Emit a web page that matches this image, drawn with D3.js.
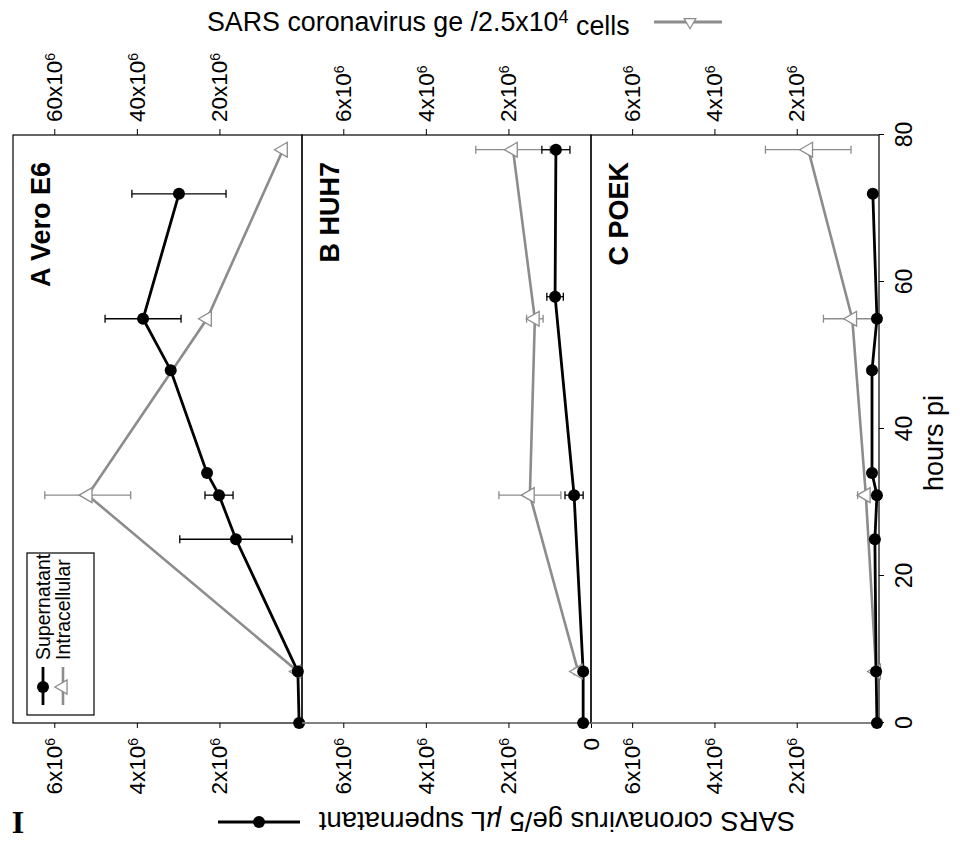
<!DOCTYPE html>
<html><head><meta charset="utf-8">
<script src="https://cdn.jsdelivr.net/npm/d3@7"></script>
<style>
body{margin:0;background:#fff}
svg{display:block}
text{font-family:"Liberation Sans",Arial,Helvetica,sans-serif;fill:#000}
</style>
</head><body>
<svg id="c" width="960" height="847"></svg>
<script>
// ---------- data ----------
const hoursTicks = [0, 20, 40, 60, 80];
const panelNames = ["A Vero E6", "B HUH7", "C POEK"];
const leftTicksA = [2e6, 4e6, 6e6];
const leftTicksB = [0, 2e6, 4e6, 6e6];
const leftTicksC = [2e6, 4e6, 6e6];
const rightTicksA = [20e6, 40e6, 60e6];
const rightTicksB = [2e6, 4e6, 6e6];
const rightTicksC = [2e6, 4e6, 6e6];

// Supernatant (ge / 5 µL) : hours, value, error
const supA_h = [0, 7, 25, 31, 34, 48, 55, 72];
const supA_v = [0.07e6, 0.1e6, 1.6e6, 2.01e6, 2.3e6, 3.18e6, 3.85e6, 2.98e6];
const supA_e = [0, 0, 1.36e6, 0.34e6, 0, 0, 0.92e6, 1.14e6];
const supB_h = [0, 7, 31, 58, 78];
const supB_v = [0.19e6, 0.19e6, 0.41e6, 0.87e6, 0.85e6];
const supB_e = [0, 0, 0.22e6, 0.2e6, 0.34e6];
const supC_h = [0, 7, 25, 31, 34, 48, 55, 72];
const supC_v = [0.05e6, 0.07e6, 0.1e6, 0.05e6, 0.17e6, 0.17e6, 0.05e6, 0.15e6];
const supC_e = [0, 0, 0, 0, 0, 0, 0, 0];

// Intracellular (ge / 2.5x10^4 cells) : hours, value, error
const intA_h = [7, 31, 55, 78];
const intA_v = [1e6, 51.9e6, 23e6, 4.6e6];
const intA_e = [0, 10.4e6, 0, 0];
const intB_h = [7, 31, 55, 78];
const intB_v = [0.31e6, 1.48e6, 1.36e6, 1.89e6];
const intB_e = [0.1e6, 0.75e6, 0.2e6, 0.9e6];
const intC_h = [7, 31, 55, 78];
const intC_v = [0.07e6, 0.32e6, 0.65e6, 1.72e6];
const intC_e = [0.05e6, 0.2e6, 0.7e6, 1.04e6];

const leftMax = [7e6, 7e6, 7e6];
const rightMax = [70e6, 7e6, 7e6];

// ---------- build ----------
const zip = (h, v, e) => h.map((d, i) => ({h: d, v: v[i], e: e[i]}));
const sup = [zip(supA_h, supA_v, supA_e), zip(supB_h, supB_v, supB_e), zip(supC_h, supC_v, supC_e)];
const intr = [zip(intA_h, intA_v, intA_e), zip(intB_h, intB_v, intB_e), zip(intC_h, intC_v, intC_e)];
const leftTicks = [leftTicksA, leftTicksB, leftTicksC];
const rightTicks = [rightTicksA, rightTicksB, rightTicksC];

const GRAY = "#8c8c8c";
const FONT = "Liberation Sans, Arial, sans-serif";
const svg = d3.select("#c");
// the figure is drawn in its original orientation, then turned a quarter turn
const g = svg.append("g").attr("transform", "translate(0,847) rotate(-90)");

const x = d3.scaleLinear().domain([0, 80]).range([124, 712]);
const panelTop = [13, 302, 591], panelBot = [302, 591, 879];

function sciLabels(sel) {
  sel.selectAll(".tick text").each(function (d) {
    const t = d3.select(this);
    t.text(null);
    if (d === 0) { t.text("0"); return; }
    t.append("tspan").text(Math.round(d / 1e6) + "x10");
    t.append("tspan").attr("dy", "-0.5em").attr("font-size", "0.62em").text("6");
  });
}

for (let i = 0; i < 3; i++) {
  const top = panelTop[i], bot = panelBot[i];
  const yL = d3.scaleLinear().domain([0, leftMax[i]]).range([bot, top]);
  const yR = d3.scaleLinear().domain([0, rightMax[i]]).range([bot, top]);
  const pg = g.append("g");

  // frame
  pg.append("rect").attr("x", x(0)).attr("y", top).attr("width", x(80) - x(0)).attr("height", bot - top)
    .attr("fill", "none").attr("stroke", "#000").attr("stroke-width", 1.2);
  if (i > 0) {
    pg.append("line").attr("x1", x(0)).attr("x2", x(0)).attr("y1", top).attr("y2", bot)
      .attr("stroke", GRAY).attr("stroke-width", 1.6);
  }

  // left axis (supernatant)
  const la = pg.append("g").attr("transform", `translate(${x(0)},0)`)
    .call(d3.axisLeft(yL).tickValues(leftTicks[i]).tickSize(5).tickPadding(10));
  la.select(".domain").remove();
  la.selectAll("text").attr("font-size", 22.5).attr("font-family", FONT);
  sciLabels(la);

  // right axis (intracellular)
  const ra = pg.append("g").attr("transform", `translate(${x(80)},0)`)
    .call(d3.axisRight(yR).tickValues(rightTicks[i]).tickSize(6).tickPadding(7));
  ra.select(".domain").remove();
  ra.selectAll("text").attr("font-size", 22.5).attr("font-family", FONT);
  sciLabels(ra);

  // intracellular series
  const lineR = d3.line().x(d => x(d.h)).y(d => yR(d.v));
  pg.append("path").datum(intr[i]).attr("d", lineR).attr("fill", "none")
    .attr("stroke", GRAY).attr("stroke-width", 2.6);
  const eR = pg.append("g").attr("stroke", GRAY).attr("stroke-width", 1.3);
  intr[i].filter(d => d.e > 0).forEach(d => {
    const cx = x(d.h);
    eR.append("line").attr("x1", cx).attr("x2", cx).attr("y1", yR(d.v - d.e)).attr("y2", yR(d.v + d.e));
    eR.append("line").attr("x1", cx - 4).attr("x2", cx + 4).attr("y1", yR(d.v - d.e)).attr("y2", yR(d.v - d.e));
    eR.append("line").attr("x1", cx - 4).attr("x2", cx + 4).attr("y1", yR(d.v + d.e)).attr("y2", yR(d.v + d.e));
  });

  // supernatant series
  const lineL = d3.line().x(d => x(d.h)).y(d => yL(d.v));
  pg.append("path").datum(sup[i]).attr("d", lineL).attr("fill", "none")
    .attr("stroke", "#000").attr("stroke-width", 2.8);
  const eL = pg.append("g").attr("stroke", "#000").attr("stroke-width", 1.3);
  sup[i].filter(d => d.e > 0).forEach(d => {
    const cx = x(d.h);
    eL.append("line").attr("x1", cx).attr("x2", cx).attr("y1", yL(d.v - d.e)).attr("y2", yL(d.v + d.e));
    eL.append("line").attr("x1", cx - 4).attr("x2", cx + 4).attr("y1", yL(d.v - d.e)).attr("y2", yL(d.v - d.e));
    eL.append("line").attr("x1", cx - 4).attr("x2", cx + 4).attr("y1", yL(d.v + d.e)).attr("y2", yL(d.v + d.e));
  });

  // markers
  pg.selectAll(".tri").data(intr[i]).join("path")
    .attr("d", d3.symbol(d3.symbolTriangle, 95))
    .attr("transform", d => `translate(${x(d.h)},${yR(d.v)})`)
    .attr("fill", "#fff").attr("stroke", GRAY).attr("stroke-width", 1.3);
  pg.selectAll(".dot").data(sup[i]).join("circle")
    .attr("cx", d => x(d.h)).attr("cy", d => yL(d.v)).attr("r", 6).attr("fill", "#000");

  // panel label
  pg.append("text").attr("x", 685).attr("y", top + 37).attr("text-anchor", "end")
    .attr("font-size", 27).attr("font-weight", "bold").text(panelNames[i]);
}

// hours axis
const ha = g.append("g").attr("transform", `translate(0,${panelBot[2]})`)
  .call(d3.axisBottom(x).tickValues(hoursTicks).tickSize(5).tickPadding(12));
ha.select(".domain").remove();
ha.selectAll("text").attr("font-size", 23).attr("font-family", FONT);
g.append("text").attr("x", 404).attr("y", 943).attr("text-anchor", "middle").attr("font-size", 27).text("hours pi");

// legend inside panel A
const lg = g.append("g");
lg.append("rect").attr("x", 132).attr("y", 27).attr("width", 162).attr("height", 67)
  .attr("fill", "#fff").attr("stroke", "#000").attr("stroke-width", 1.2);
lg.append("line").attr("x1", 142).attr("x2", 180).attr("y1", 43).attr("y2", 43).attr("stroke", "#000").attr("stroke-width", 2.8);
lg.append("circle").attr("cx", 160).attr("cy", 43).attr("r", 6).attr("fill", "#000");
lg.append("text").attr("x", 187).attr("y", 43).attr("dy", "0.35em").attr("font-size", 19.5).text("Supernatant");
lg.append("line").attr("x1", 142).attr("x2", 180).attr("y1", 63).attr("y2", 63).attr("stroke", GRAY).attr("stroke-width", 2.6);
lg.append("path").attr("d", d3.symbol(d3.symbolTriangle, 85)).attr("transform", "translate(160,63)")
  .attr("fill", "#fff").attr("stroke", GRAY).attr("stroke-width", 1.3);
lg.append("text").attr("x", 187).attr("y", 63).attr("dy", "0.35em").attr("font-size", 19.5).text("Intracellular");

// top title (right axis title)
const tt = svg.append("text").attr("x", 207).attr("y", 31).attr("font-size", 26.8);
tt.append("tspan").text("SARS coronavirus ge /2.5x10");
tt.append("tspan").attr("dy", "-0.45em").attr("font-size", 18).text("4");
tt.append("tspan").attr("dy", "0.45em").text(" cells");
svg.append("line").attr("x1", 654).attr("x2", 722).attr("y1", 22).attr("y2", 22).attr("stroke", GRAY).attr("stroke-width", 3);
svg.append("path").attr("d", d3.symbol(d3.symbolTriangle, 60)).attr("transform", "translate(690,22) rotate(180)")
  .attr("fill", "#fff").attr("stroke", GRAY).attr("stroke-width", 1.2);

// bottom title (left axis title, upside down)
const bt = svg.append("text").attr("transform", "translate(557,822) rotate(180)")
  .attr("text-anchor", "middle").attr("dy", "0.35em").attr("font-size", 27.5);
bt.append("tspan").text("SARS coronavirus ge/5  ");
bt.append("tspan").attr("font-style", "italic").text("µ");
bt.append("tspan").text("L supernatant");
svg.append("line").attr("x1", 218).attr("x2", 300).attr("y1", 822).attr("y2", 822).attr("stroke", "#000").attr("stroke-width", 3);
svg.append("circle").attr("cx", 259).attr("cy", 822).attr("r", 6).attr("fill", "#000");
svg.append("text").attr("x", 18).attr("y", 833).attr("text-anchor", "middle").attr("font-size", 32)
  .attr("font-weight", "bold").style("font-family", "Liberation Serif, DejaVu Serif, serif").text("I");
</script>
</body></html>
